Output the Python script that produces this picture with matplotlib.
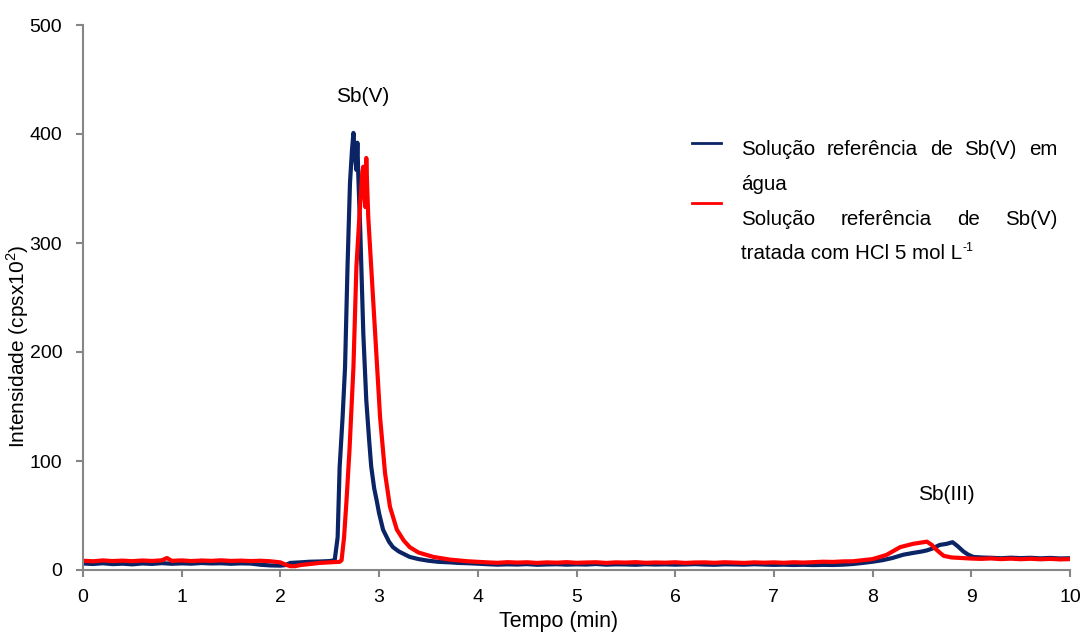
import matplotlib
matplotlib.use("Agg")
import matplotlib.pyplot as plt
from matplotlib.lines import Line2D

plt.rcParams['font.family'] = ['Liberation Sans', 'DejaVu Sans']

# ---- data (time in min, intensity in cps x 10^2) ----
blue_pts = [
    (0.0, 6.0), (0.1, 5.5), (0.2, 6.2), (0.3, 5.4), (0.4, 5.8), (0.5, 5.2),
    (0.6, 6.0), (0.7, 5.6), (0.8, 6.3), (0.9, 5.7), (1.0, 6.1), (1.1, 5.8),
    (1.2, 6.4), (1.3, 6.0), (1.4, 6.2), (1.5, 5.7), (1.6, 6.1), (1.7, 5.9),
    (1.8, 4.8), (1.9, 4.2), (2.0, 4.0), (2.05, 4.5), (2.1, 6.5), (2.2, 7.0),
    (2.3, 7.6), (2.4, 7.8), (2.5, 8.2), (2.55, 9.0), (2.58, 30), (2.6, 94),
    (2.63, 140), (2.655, 186), (2.68, 278), (2.705, 355), (2.725, 385),
    (2.74, 401), (2.755, 380), (2.77, 367), (2.78, 392), (2.79, 360),
    (2.81, 309), (2.84, 217), (2.87, 156), (2.9, 118), (2.92, 95),
    (2.95, 75), (2.975, 64), (3.0, 52), (3.04, 37), (3.1, 26), (3.14, 21),
    (3.2, 17), (3.31, 12), (3.4, 10), (3.5, 8.5), (3.6, 7.5), (3.72, 7.0),
    (3.8, 6.5), (3.9, 6.2), (4.0, 5.8), (4.1, 5.3), (4.2, 4.9), (4.3, 5.2),
    (4.4, 5.0), (4.5, 5.4), (4.6, 4.8), (4.7, 5.1), (4.8, 5.3), (4.9, 4.9),
    (5.0, 5.2), (5.1, 5.0), (5.2, 5.5), (5.3, 4.9), (5.4, 5.2), (5.5, 5.1),
    (5.6, 4.8), (5.7, 5.3), (5.8, 5.0), (5.9, 5.2), (6.0, 4.9), (6.1, 5.1),
    (6.2, 5.4), (6.3, 5.0), (6.4, 4.8), (6.5, 5.2), (6.6, 5.1), (6.7, 4.9),
    (6.8, 5.3), (6.9, 5.0), (7.0, 4.7), (7.1, 4.9), (7.2, 4.6), (7.3, 4.8),
    (7.4, 4.5), (7.5, 4.7), (7.6, 4.6), (7.7, 4.9), (7.8, 5.5), (7.9, 6.5),
    (8.0, 7.6), (8.1, 9.0), (8.2, 11), (8.31, 14), (8.4, 15.5), (8.5, 17),
    (8.55, 18), (8.6, 19.5), (8.68, 23), (8.75, 24), (8.81, 25.5),
    (8.86, 22), (8.92, 17), (8.97, 14), (9.02, 12), (9.1, 11.5), (9.2, 11.2),
    (9.3, 10.8), (9.4, 11.3), (9.5, 10.9), (9.6, 11.2), (9.7, 10.7),
    (9.8, 11.1), (9.9, 10.6), (10.0, 10.8),
]

red_pts = [
    (0.0, 8.5), (0.1, 8.0), (0.2, 8.8), (0.3, 8.2), (0.4, 8.6), (0.5, 8.1),
    (0.6, 8.7), (0.7, 8.3), (0.8, 8.9), (0.85, 11.0), (0.9, 8.4), (1.0, 8.8),
    (1.1, 8.2), (1.2, 8.7), (1.3, 8.4), (1.4, 8.9), (1.5, 8.3), (1.6, 8.6),
    (1.7, 8.2), (1.8, 8.5), (1.9, 8.0), (2.0, 7.0), (2.05, 5.0), (2.1, 3.5),
    (2.15, 3.5), (2.2, 4.5), (2.3, 5.5), (2.4, 6.5), (2.5, 7.0), (2.6, 7.5),
    (2.62, 9.0), (2.645, 30), (2.67, 64), (2.7, 110), (2.74, 186),
    (2.77, 278), (2.81, 339), (2.83, 365), (2.84, 370), (2.85, 345),
    (2.86, 333), (2.87, 378), (2.88, 350), (2.89, 324), (2.92, 278),
    (2.96, 217), (3.01, 140), (3.06, 89), (3.11, 58), (3.18, 37), (3.25, 27),
    (3.31, 21), (3.4, 16), (3.55, 12), (3.72, 9.5), (3.9, 8.0), (4.0, 7.5),
    (4.1, 7.0), (4.2, 6.6), (4.3, 7.2), (4.4, 6.8), (4.5, 7.1), (4.6, 6.5),
    (4.7, 7.0), (4.8, 6.7), (4.9, 7.2), (5.0, 6.6), (5.1, 6.9), (5.2, 7.1),
    (5.3, 6.5), (5.4, 7.0), (5.5, 6.8), (5.6, 7.2), (5.7, 6.6), (5.8, 6.9),
    (5.9, 6.7), (6.0, 7.1), (6.1, 6.5), (6.2, 6.9), (6.3, 7.0), (6.4, 6.6),
    (6.5, 7.1), (6.6, 6.8), (6.7, 6.5), (6.8, 7.0), (6.9, 6.7), (7.0, 7.0),
    (7.1, 6.6), (7.2, 7.1), (7.3, 6.8), (7.4, 7.2), (7.5, 7.6), (7.6, 7.4),
    (7.7, 7.9), (7.8, 8.0), (7.9, 9.0), (8.0, 10.0), (8.14, 13.8),
    (8.28, 21), (8.41, 24), (8.55, 26), (8.6, 23), (8.63, 20), (8.68, 16),
    (8.72, 13), (8.8, 11.5), (8.9, 11.0), (9.0, 10.5), (9.1, 10.2),
    (9.2, 10.6), (9.3, 10.0), (9.4, 10.4), (9.5, 9.9), (9.6, 10.3),
    (9.7, 9.8), (9.8, 10.2), (9.9, 9.7), (10.0, 10.0),
]

blue_t = [p[0] for p in blue_pts]
blue_i = [p[1] for p in blue_pts]
red_t = [p[0] for p in red_pts]
red_i = [p[1] for p in red_pts]

x_ticks = [0, 1, 2, 3, 4, 5, 6, 7, 8, 9, 10]
y_ticks = [0, 100, 200, 300, 400, 500]

legend_line1 = ["Solução", "referência", "de", "Sb(V)", "em"]
legend_line2 = "água"
legend_line3 = ["Solução", "referência", "de", "Sb(V)"]
legend_line4 = "tratada com HCl 5 mol L"
legend_sup = "-1"

BLUE = "#0b2466"
RED = "#ff0000"
GRAY = "#868686"

W, H = 1084, 632
fig = plt.figure(figsize=(W / 100, H / 100), dpi=100)
ax = fig.add_axes([83 / W, 1 - 570 / H, (1070 - 83) / W, (570 - 25) / H])

ax.plot(blue_t, blue_i, color=BLUE, lw=3.0, solid_joinstyle='round')
ax.plot(red_t, red_i, color=RED, lw=3.0, solid_joinstyle='round')

ax.set_xlim(0, 10)
ax.set_ylim(0, 500)
ax.set_xticks(x_ticks)
ax.set_yticks(y_ticks)
for s in ['top', 'right']:
    ax.spines[s].set_visible(False)
for s in ['left', 'bottom']:
    ax.spines[s].set_color(GRAY)
    ax.spines[s].set_linewidth(1.5)
ax.tick_params(axis='both', direction='out', length=5, width=1.5,
               color=GRAY, labelsize=14, labelcolor='black')
ax.tick_params(axis='x', pad=9)
ax.tick_params(axis='y', pad=10)

def px(x, y):
    return x / W, 1 - y / H

fig.text(*px(559, 621), "Tempo (min)", ha='center', va='center', fontsize=15.5)
fig.text(*px(18, 346), r"Intensidade (cpsx10$^{\mathregular{2}}$)", ha='center',
         va='center', rotation=90, fontsize=15)

ax.text(2.83, 434, "Sb(V)", ha='center', va='center', fontsize=15)
ax.text(8.75, 69, "Sb(III)", ha='center', va='center', fontsize=15)

# legend handles
fig.add_artist(Line2D([692 / W, 721 / W], [1 - 143 / H] * 2, color=BLUE, lw=2))
fig.add_artist(Line2D([692 / W, 721 / W], [1 - 203 / H] * 2, color=RED, lw=2))

LFS = 14.8
renderer = fig.canvas.get_renderer()

def justified(words, x0, x1, ybase):
    texts = [fig.text(0, 1 - ybase / H, w, fontsize=LFS, va='baseline') for w in words]
    widths = [t.get_window_extent(renderer).width for t in texts]
    gap = (x1 - x0 - sum(widths)) / (len(words) - 1)
    x = x0
    for t, wd in zip(texts, widths):
        t.set_x(x / W)
        x += wd + gap

justified(legend_line1, 741, 1057, 155)
fig.text(741 / W, 1 - 190 / H, legend_line2, fontsize=LFS, va='baseline')
justified(legend_line3, 741, 1057, 225)
t4 = fig.text(741 / W, 1 - 259 / H, legend_line4, fontsize=LFS, va='baseline')
w4 = t4.get_window_extent(renderer).width
fig.text((741 + w4 + 0.5) / W, 1 - 251 / H, legend_sup, fontsize=LFS * 0.6,
         va='baseline')

fig.savefig("out.png", dpi=100)
